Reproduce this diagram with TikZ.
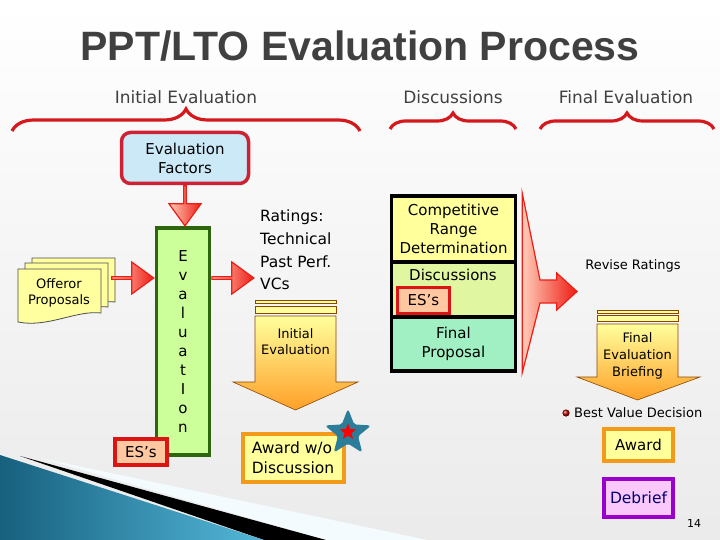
\documentclass[tikz,border=0pt]{standalone}
\usepackage{fontspec}
\setmainfont{DejaVu Sans}
\newfontfamily\ttlfont{Liberation Sans}
\usepackage{xcolor}
\definecolor{ttlgray}{RGB}{64,64,64}
\definecolor{brred}{RGB}{212,24,28}
\definecolor{facred}{RGB}{204,34,51}
\definecolor{facblue}{RGB}{204,233,248}
\definecolor{evgreen}{RGB}{204,255,153}
\definecolor{evdark}{RGB}{46,102,14}
\definecolor{espeach}{RGB}{255,200,160}
\definecolor{esred}{RGB}{220,20,20}
\definecolor{docyel}{RGB}{255,255,160}
\definecolor{arrpink}{RGB}{255,205,185}
\definecolor{arrred}{RGB}{238,28,20}
\definecolor{paleyel}{RGB}{255,255,156}
\definecolor{awdorange}{RGB}{242,154,26}
\definecolor{orgdark}{RGB}{255,160,40}
\definecolor{discgreen}{RGB}{224,246,160}
\definecolor{fpmint}{RGB}{160,240,196}
\definecolor{starteal}{RGB}{43,125,154}
\definecolor{debpink}{RGB}{250,200,250}
\definecolor{debpurple}{RGB}{153,0,204}
\definecolor{debnavy}{RGB}{0,0,110}
\definecolor{ribdark}{RGB}{23,96,126}
\definecolor{riblight}{RGB}{84,184,218}
\usetikzlibrary{arrows.meta,positioning,shapes.geometric,shapes.arrows,decorations.pathreplacing,calc}

\begin{document}
\begin{tikzpicture}[x=1pt,y=-1pt,
  hdr/.style={font=\fontsize{17}{20}\selectfont, text=black!75},
  bracered/.style={decorate, decoration={brace, amplitude=#1}, draw=brred, line width=3.2pt},
  redarrow/.style={single arrow, draw=arrred, line width=1.2pt, left color=arrpink, right color=arrred, minimum width=32pt, minimum height=42pt, single arrow head extend=7pt, single arrow tip angle=72, inner sep=0pt},
  esbox/.style={draw=esred, fill=espeach, line width=3.2pt, minimum width=52pt, minimum height=26pt, inner sep=0pt, font=\fontsize{15}{18}\selectfont},
  stackbox/.style={draw=black, line width=3.5pt, minimum width=124pt, align=center, inner sep=0pt, font=\fontsize{15}{19}\selectfont},
  yelbox/.style={draw=awdorange, fill=paleyel, line width=4pt, inner sep=0pt},
  downarrow/.style={top color=paleyel, bottom color=orgdark, draw=orange!55!black, line width=0.6pt},
  stripe/.style={fill=paleyel, draw=orange!55!black, line width=0.6pt},
  smalltxt/.style={font=\fontsize{13}{16.5}\selectfont, align=center}]
  \useasboundingbox (0,0) rectangle (720,540);
  \shade[top color=white, bottom color=gray!16] (0,0) rectangle (720,540);

  %% bottom ribbon
  \fill[white!70!cyan!15] (40,458) -- (427,540) -- (326,540) -- cycle;
  \fill[black] (20,456) -- (326,540) -- (264,540) -- cycle;
  \shade[left color=ribdark, right color=riblight] (0,455) -- (264,540) -- (0,540) -- cycle;

  %% title and phases
  \node[font=\ttlfont\bfseries\fontsize{41}{45}\selectfont, text=ttlgray] (title) at (360,46) {PPT/LTO Evaluation Process};
  \node[hdr] (hIni) at (186,97) {Initial Evaluation};
  \node[hdr] (hDisc) at (453,97) {Discussions};
  \node[hdr] (hFin) at (626,97) {Final Evaluation};
  \draw[bracered=22pt] (12,131) -- (360,131);
  \draw[bracered=16pt] (390,129) -- (516,129);
  \draw[bracered=16pt] (540,129) -- (714,129);

  %% initial evaluation
  \node[draw=facred, fill=facblue, line width=3.5pt, rounded corners=9pt, minimum width=127pt, minimum height=51pt, align=center, font=\fontsize{15}{19}\selectfont] (factors) at (185,158) {Evaluation\\Factors};
  \node[draw=evdark, fill=evgreen, line width=3.5pt, minimum width=53pt, minimum height=227pt, inner sep=0pt, align=center, font=\fontsize{15}{19.1}\selectfont] (evalBox) at (183,341.5) {E\\v\\a\\l\\u\\a\\t\\I\\o\\n};
  \node[esbox] (esA) at (141,452) {ES’s};

  \draw[fill=docyel, draw=gray!60!black, line width=0.8pt] (32,258) -- (115,258) -- (115,302) .. controls (90,299) and (62,317) .. (32,311) -- cycle;
  \draw[fill=docyel, draw=gray!60!black, line width=0.8pt] (25,263) -- (108,263) -- (108,307) .. controls (83,304) and (55,322) .. (25,316) -- cycle;
  \draw[fill=docyel, draw=gray!60!black, line width=0.8pt] (18,269) -- (101,269) -- (101,313) .. controls (76,310) and (48,328) .. (18,322) -- cycle;
  \node[smalltxt] (offer) at (59,293) {Offeror\\Proposals};

  \node[redarrow, rotate=-90, minimum height=40pt, anchor=tail] (arrF) at (factors.south) {};
  \node[redarrow, anchor=tip] (arrL) at (evalBox.west |- 0,278) {};
  \node[redarrow, anchor=tail] (arrR) at (evalBox.east |- 0,278) {};

  \node[anchor=west, align=left, inner sep=0pt, font=\fontsize{15.5}{22.7}\selectfont] (ratings) at (260,250) {Ratings:\\Technical\\Past Perf.\\VCs};

  \fill[stripe] (255,300) rectangle (336,303.3);
  \fill[stripe] (255,306) rectangle (336,313.3);
  \shade[downarrow] (255,316) -- (336,316) -- (336,382) -- (358,382) -- (295.5,410) -- (233,382) -- (255,382) -- cycle;
  \node[smalltxt] (iniTxt) at (295.5,341.5) {Initial\\Evaluation};

  \node[yelbox, minimum width=101pt, minimum height=48pt, align=left, font=\fontsize{15.5}{20}\selectfont] (awdNo) at (293,457.5) {Award w/o\\Discussion};
  \node[star, star points=5, star point ratio=2.3, minimum size=46pt, inner sep=0pt, fill=starteal, draw=starteal, line width=1pt, rounded corners=2pt] (starA) at (348,433) {};
  \node[star, star points=5, star point ratio=2.3, minimum size=17pt, inner sep=0pt, fill=red] (starB) at (348,432) {};

  %% discussions
  \node[stackbox, fill=paleyel, minimum height=66pt] (crng) at (453.5,229) {Competitive\\Range\\Determination};
  \node[stackbox, fill=discgreen, minimum height=55pt] (disc) at (453.5,289.5) {};
  \node[stackbox, fill=fpmint, minimum height=54pt] (fprop) at (453.5,344) {Final\\Proposal};
  \node[font=\fontsize{15}{18}\selectfont] (discTxt) at (453,275) {Discussions};
  \node[esbox] (esB) at (423.5,300.5) {ES’s};

  \shade[left color=arrpink, right color=arrred, draw=arrred, line width=1.2pt]
    ($(crng.north east)+(5,-1)$) -- (540,280) -- (556.7,280) -- (556.7,273) -- (577,291.5)
    -- (556.7,310) -- (556.7,303) -- (540,303) -- ($(fprop.south east)+(5,0)$) -- cycle;

  %% final evaluation
  \node[font=\fontsize{13}{16}\selectfont] (revise) at (633,266) {Revise Ratings};
  \fill[stripe] (597,310) rectangle (678,313.3);
  \fill[stripe] (597,315.7) rectangle (678,321);
  \shade[downarrow] (597,324) -- (678,324) -- (678,377) -- (700,377) -- (637.5,400) -- (577,377) -- (597,377) -- cycle;
  \node[smalltxt, font=\fontsize{13}{16.7}\selectfont] (finTxt) at (637.5,356) {Final\\Evaluation\\Briefing};

  \shade[ball color=red!70!black] (566,413) circle (3.6pt);
  \node[anchor=west, inner sep=0pt, font=\fontsize{13}{16}\selectfont] (bvd) at (574,413) {Best Value Decision};
  \node[yelbox, minimum width=69pt, minimum height=32pt, font=\fontsize{15}{18}\selectfont] (awd) at (638.5,444.5) {Award};
  \node[draw=debpurple, fill=debpink, line width=4pt, minimum width=69pt, minimum height=38pt, inner sep=0pt, text=debnavy, font=\fontsize{15.5}{18}\selectfont] (deb) at (638.5,497.5) {Debrief};
  \node[font=\fontsize{11}{13}\selectfont] (pgno) at (694,523) {14};
\end{tikzpicture}
\end{document}
